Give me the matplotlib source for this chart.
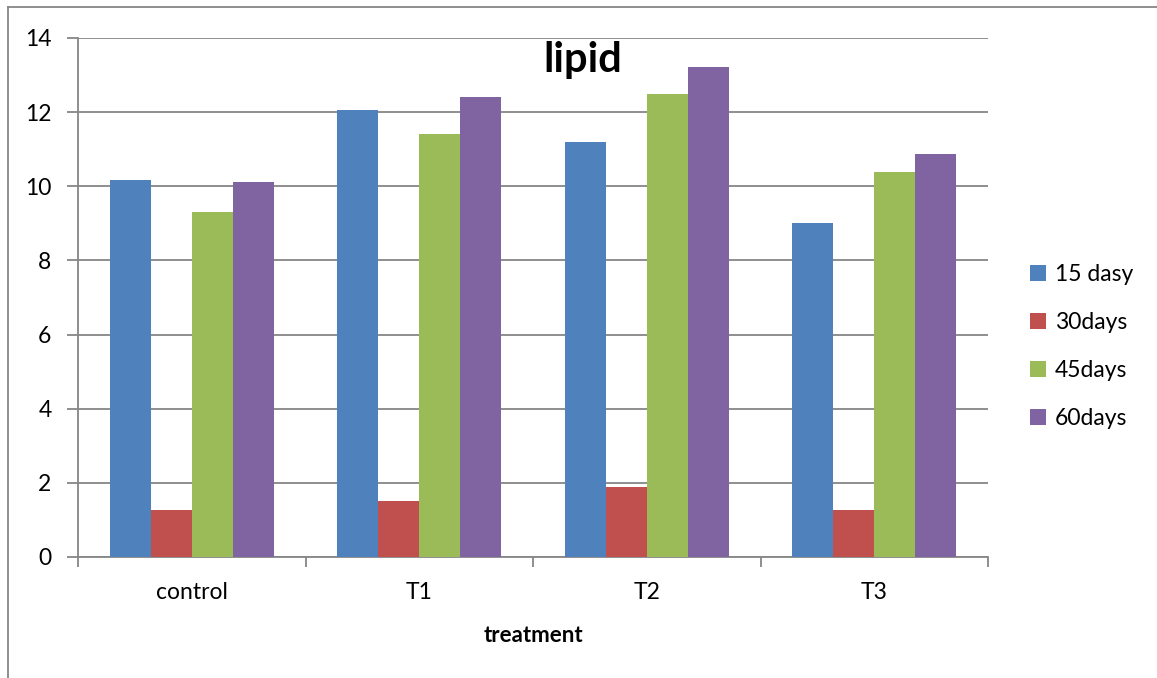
import numpy as np
import matplotlib
matplotlib.use("Agg")
from matplotlib import pyplot as plt
from matplotlib.lines import Line2D
from matplotlib.patches import Patch

treatments = ["control", "T1", "T2", "T3"]
series_names = ["15 dasy", "30days", "45days", "60days"]
days_15 = [10.17, 12.06, 11.19, 9.01]
days_30 = [1.28, 1.51, 1.89, 1.27]
days_45 = [9.31, 11.41, 12.49, 10.39]
days_60 = [10.12, 12.41, 13.22, 10.87]
colors = ["#4f81bd", "#c0504d", "#9bbb59", "#8064a2"]

plt.rcParams["font.family"] = ["Lato", "DejaVu Sans"]
grey = "#868686"

fig = plt.figure(figsize=(11.57, 6.78), dpi=100)
ax = fig.add_axes([0.0674, 0.1785, 0.7866, 0.7655])

x = np.arange(len(treatments))
width = 0.18
all_series = [days_15, days_30, days_45, days_60]
for i, (vals, name, col) in enumerate(zip(all_series, series_names, colors)):
    ax.bar(x + (i - 1.5) * width, vals, width, color=col, label=name, zorder=3)

ax.set_xlim(-0.5, len(treatments) - 0.5)
ax.set_ylim(0, 14)
ax.set_yticks(np.arange(0, 15, 2))
ax.yaxis.grid(True, color=grey, linewidth=1.3, zorder=0)
ax.set_xticks(x)
ax.set_xticklabels(treatments)
ax.set_xticks(np.arange(-0.5, len(treatments)), minor=True)
ax.tick_params(axis="x", which="major", length=0, pad=18, labelsize=16.5)
ax.tick_params(axis="x", which="minor", length=7, width=1.3, color=grey)
ax.tick_params(axis="y", length=8, width=1.3, color=grey, labelsize=16.5, pad=11)
for side in ["top", "right"]:
    ax.spines[side].set_visible(False)
for side in ["left", "bottom"]:
    ax.spines[side].set_color(grey)
    ax.spines[side].set_linewidth(1.3)

ax.set_xlabel("treatment", fontsize=16, fontweight="bold", labelpad=16)
ax.text(0.555, 0.995, "lipid", transform=ax.transAxes, ha="center", va="top",
        fontsize=30, fontweight="bold")

handles = [Patch(facecolor=c, edgecolor="none") for c in colors]
fig.legend(handles, series_names, loc="center left", bbox_to_anchor=(0.882, 0.489),
           frameon=False, fontsize=16.5, handlelength=0.7, handleheight=0.7,
           handletextpad=0.4, labelspacing=1.17, borderaxespad=0)

# outer chart frame (left and top edges visible)
fig.add_artist(Line2D([8 / 1157, 8 / 1157], [0, 1 - 7 / 678], transform=fig.transFigure,
                      color=grey, linewidth=1.3))
fig.add_artist(Line2D([8 / 1157, 1], [1 - 7 / 678, 1 - 7 / 678], transform=fig.transFigure,
                      color=grey, linewidth=1.3))

fig.savefig("out.png", dpi=100)
